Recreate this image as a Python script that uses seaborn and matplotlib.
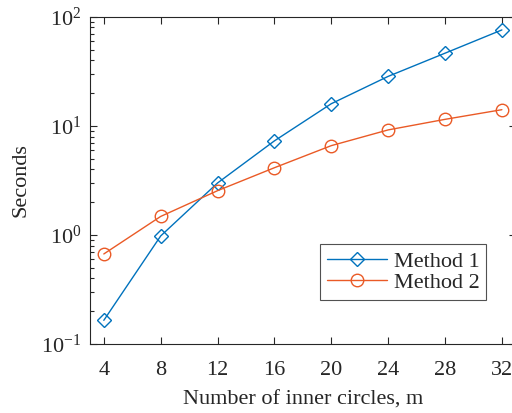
import matplotlib
matplotlib.use("Agg")
import matplotlib.pyplot as plt
import matplotlib.ticker as mticker
import seaborn as sns
import pandas as pd

inner_circles = [4, 8, 12, 16, 20, 24, 28, 32]
method1_seconds = [0.165, 0.98, 3.0, 7.3, 16.0, 28.5, 46.5, 76.0]
method2_seconds = [0.67, 1.48, 2.55, 4.14, 6.6, 9.2, 11.5, 14.1]
x_ticks = [4, 8, 12, 16, 20, 24, 28, 32]

sns.set_style("ticks")
plt.rcParams['font.family'] = ['Liberation Serif', 'DejaVu Serif']
plt.rcParams['mathtext.fontset'] = 'custom'
plt.rcParams['mathtext.rm'] = 'Liberation Serif'
plt.rcParams['mathtext.it'] = 'Liberation Serif:italic'

df = pd.DataFrame({
    'm': inner_circles * 2,
    'sec': method1_seconds + method2_seconds,
    'method': ['Method 1'] * len(inner_circles) + ['Method 2'] * len(inner_circles),
})

fig = plt.figure(figsize=(5.12, 4.13), dpi=100)
ax = fig.add_axes([0.175, 0.167, 0.833, 0.792])

blue = '#0072BD'
orange = '#EA5A26'

sns.lineplot(data=df[df['method'] == 'Method 1'], x='m', y='sec', ax=ax,
             color=blue, marker='D', markersize=7.5, mfc='none', mec=blue,
             mew=1.0, linewidth=1.0, label='Method 1')
sns.lineplot(data=df[df['method'] == 'Method 2'], x='m', y='sec', ax=ax,
             color=orange, marker='o', markersize=9, mfc='none', mec=orange,
             mew=1.0, linewidth=1.0, label='Method 2')

ax.set_yscale('log')
ax.set_xlim(3, 33)
ax.set_ylim(0.1, 100)
ax.set_xticks(x_ticks)
ax.xaxis.set_minor_locator(mticker.NullLocator())
ax.yaxis.set_major_locator(mticker.LogLocator(base=10, numticks=10))
ax.yaxis.set_minor_locator(mticker.LogLocator(base=10, subs=range(2, 10), numticks=10))
ax.yaxis.set_minor_formatter(mticker.NullFormatter())

ax.tick_params(which='both', direction='in', top=True, right=True,
               width=0.8, color='#262626', labelsize=16, labelcolor='#262626')
ax.tick_params(which='major', length=5)
ax.tick_params(which='minor', length=3)
ax.tick_params(axis='x', pad=12)
ax.tick_params(axis='y', pad=6)

for s in ax.spines.values():
    s.set_linewidth(0.8)
    s.set_color('#262626')

ax.set_xlabel('Number of inner circles, m', fontsize=16, color='#262626', labelpad=8)
ax.set_ylabel('Seconds', fontsize=16, color='#262626', labelpad=8)

leg = ax.legend(loc='lower right', bbox_to_anchor=(0.93, 0.135), fontsize=16,
                frameon=True, fancybox=False, edgecolor='#262626',
                handlelength=2.7, borderpad=0.3, labelspacing=0.05,
                handletextpad=0.3, borderaxespad=0)
leg.get_frame().set_linewidth(0.8)

fig.savefig('out.png', dpi=100)
